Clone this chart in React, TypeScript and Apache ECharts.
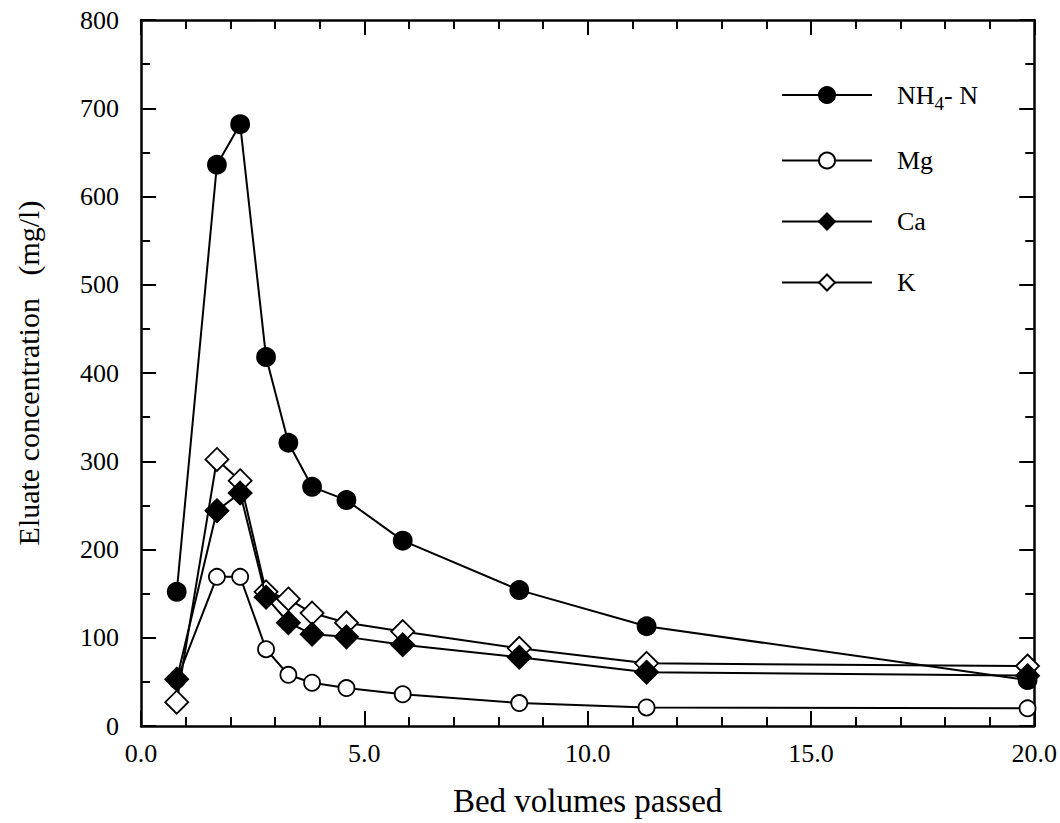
import React, { useEffect, useRef } from "react";
import * as echarts from "echarts";

const bedVolumes = [0.8, 1.7, 2.22, 2.8, 3.3, 3.83, 4.6, 5.86, 8.47, 11.32, 19.85];
const nh4N = [152, 636, 682, 418, 321, 271, 256, 210, 154, 113, 52];
const mg = [52, 169, 169, 87, 58, 49, 43, 36, 26, 21, 20];
const ca = [53, 244, 264, 146, 117, 104, 101, 92, 78, 61, 57];
const k = [27, 302, 278, 152, 144, 128, 117, 107, 88, 71, 68];
const xTicks = [0, 5, 10, 15, 20];
const yTicks = [0, 100, 200, 300, 400, 500, 600, 700, 800];

const FONT = "Liberation Serif";

function pairs(ys: number[]) {
  return ys.map((y, i) => [bedVolumes[i], y]);
}

export default function App() {
  const ref = useRef<HTMLDivElement>(null);
  useEffect(() => {
    if (!ref.current) return;
    const chart = echarts.init(ref.current, null, { renderer: "svg" });
    const axisCommon = {
      axisLine: { show: true, onZero: false, lineStyle: { color: "#000", width: 2.5 } },
      axisTick: { show: true, inside: true, length: 15, lineStyle: { color: "#000", width: 2 } },
      splitLine: { show: false },
    };
    const xBase = { type: "value", min: xTicks[0], max: xTicks[xTicks.length - 1], interval: 5 };
    const yBase = { type: "value", min: yTicks[0], max: yTicks[yTicks.length - 1], interval: 100 };
    const lineSeries = (name: string, data: number[], symbol: string, filled: boolean, size: number, z: number) => ({
      name,
      type: "line",
      data: pairs(data),
      symbol,
      symbolSize: size,
      showSymbol: true,
      z,
      lineStyle: { color: "#000", width: 2, type: "solid" },
      itemStyle: { color: filled ? "#000" : "#fff", borderColor: "#000", borderWidth: 1.8 },
      emphasis: { disabled: true },
    });
    chart.setOption({
      animation: false,
      backgroundColor: "#fff",
      grid: { left: 141, right: 22, top: 20, bottom: 97, containLabel: false },
      legend: {
        orient: "vertical",
        left: 776,
        top: 77,
        itemWidth: 90,
        itemHeight: 20,
        itemGap: 35,
        data: ["NH4-N", "Mg", "Ca", "K"],
        textStyle: {
          fontFamily: FONT,
          fontSize: 26,
          color: "#000",
          padding: [0, 0, 0, 20],
          rich: {
            a: { fontFamily: FONT, fontSize: 26, color: "#000" },
            s: { fontFamily: FONT, fontSize: 19, color: "#000", padding: [16, 0, 0, 0] },
          },
        },
        formatter: (name: string) => (name === "NH4-N" ? "{a|NH}{s|4}{a|- N}" : name),
      },
      xAxis: [
        {
          ...xBase,
          ...axisCommon,
          position: "bottom",
          minorTick: { show: true, splitNumber: 5, length: 9, lineStyle: { color: "#000", width: 2 } },
          axisLabel: {
            fontFamily: FONT,
            fontSize: 26,
            color: "#000",
            margin: 14,
            formatter: (v: number) => v.toFixed(1),
          },
          name: "Bed volumes passed",
          nameLocation: "middle",
          nameGap: 58,
          nameTextStyle: { fontFamily: FONT, fontSize: 33, color: "#000" },
        },
        {
          ...xBase,
          ...axisCommon,
          position: "top",
          minorTick: { show: true, splitNumber: 5, length: 9, lineStyle: { color: "#000", width: 2 } },
          axisLabel: { show: false },
        },
      ],
      yAxis: [
        {
          ...yBase,
          ...axisCommon,
          position: "left",
          minorTick: { show: true, splitNumber: 2, length: 9, lineStyle: { color: "#000", width: 2 } },
          axisLabel: { fontFamily: FONT, fontSize: 26, color: "#000", margin: 22 },
          name: "Eluate concentration   (mg/l)",
          nameLocation: "middle",
          nameGap: 98,
          nameTextStyle: { fontFamily: FONT, fontSize: 30, color: "#000" },
        },
        {
          ...yBase,
          ...axisCommon,
          position: "right",
          minorTick: { show: true, splitNumber: 2, length: 9, lineStyle: { color: "#000", width: 2 } },
          axisLabel: { show: false },
        },
      ],
      series: [
        lineSeries("NH4-N", nh4N, "circle", true, 18, 4),
        lineSeries("Mg", mg, "circle", false, 16, 3),
        lineSeries("K", k, "diamond", false, 23, 2),
        lineSeries("Ca", ca, "diamond", true, 23, 5),
      ],
    });
    return () => chart.dispose();
  }, []);
  return <div ref={ref} style={{ width: 1060, height: 823, position: "absolute", left: 0, top: 0 }} />;
}
